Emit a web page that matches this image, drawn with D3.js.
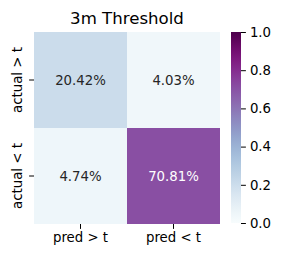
<!DOCTYPE html>
<html>
<head>
<meta charset="utf-8">
<script src="https://d3js.org/d3.v7.min.js"></script>
<style>
  html, body { margin: 0; padding: 0; background: #fff; }
  text { font-family: "DejaVu Sans", sans-serif; }
</style>
</head>
<body>
<div id="chart"></div>
<script>
var rowLabels = ["actual > t", "actual < t"];
var colLabels = ["pred > t", "pred < t"];
var values = [
  [0.2042, 0.0403],
  [0.0474, 0.7081]
];
var cbTicks = [0.0, 0.2, 0.4, 0.6, 0.8, 1.0];
var title = "3m Threshold";

var width = 282, height = 258;
var fs = 13.3;
var svg = d3.select("#chart").append("svg")
    .attr("width", width).attr("height", height);

var x = d3.scaleBand().domain(colLabels).range([34, 220]);
var y = d3.scaleBand().domain(rowLabels).range([32, 224]);
var color = d3.scaleSequential(d3.interpolateBuPu).domain([0, 1]);

var cells = [];
values.forEach(function (row, i) {
  row.forEach(function (v, j) {
    cells.push({ r: rowLabels[i], c: colLabels[j], v: v });
  });
});

svg.append("g").selectAll("rect")
  .data(cells).enter().append("rect")
  .attr("x", function (d) { return x(d.c); })
  .attr("y", function (d) { return y(d.r); })
  .attr("width", x.bandwidth())
  .attr("height", y.bandwidth())
  .attr("fill", function (d) { return color(d.v); });

svg.append("g").selectAll("text")
  .data(cells).enter().append("text")
  .attr("x", function (d) { return x(d.c) + x.bandwidth() / 2; })
  .attr("y", function (d) { return y(d.r) + y.bandwidth() / 2; })
  .attr("dy", "0.35em")
  .attr("text-anchor", "middle")
  .attr("font-size", fs)
  .attr("fill", function (d) { return d.v > 0.5 ? "#ffffff" : "#262626"; })
  .text(function (d) { return (d.v * 100).toFixed(2) + "%"; });

// x axis
var xa = svg.append("g").attr("transform", "translate(0,224)")
  .call(d3.axisBottom(x).tickSize(4.9).tickPadding(4));
xa.select(".domain").remove();
xa.selectAll("text").attr("font-size", fs).attr("fill", "#000")
  .style("font-family", "DejaVu Sans");

// y axis (ticks only, labels rotated below)
var ya = svg.append("g").attr("transform", "translate(34,0)")
  .call(d3.axisLeft(y).tickSize(4.9));
ya.select(".domain").remove();
ya.selectAll(".tick text").remove();
svg.append("g").selectAll("text")
  .data(rowLabels).enter().append("text")
  .attr("transform", function (d) {
    return "translate(22," + (y(d) + y.bandwidth() / 2) + ")rotate(-90)";
  })
  .attr("text-anchor", "middle")
  .attr("font-size", fs)
  .attr("fill", "#000")
  .text(function (d) { return d; });

// title
svg.append("text")
  .attr("x", (34 + 220) / 2)
  .attr("y", 23.5)
  .attr("text-anchor", "middle")
  .attr("font-size", 16.6)
  .attr("fill", "#000")
  .text(title);

// colorbar
var cbX = 231, cbW = 10;
var cbY = d3.scaleLinear().domain([0, 1]).range([223, 32]);
var defs = svg.append("defs");
var grad = defs.append("linearGradient").attr("id", "cbgrad")
  .attr("x1", 0).attr("y1", 1).attr("x2", 0).attr("y2", 0);
d3.range(0, 1.0001, 0.05).forEach(function (t) {
  grad.append("stop").attr("offset", t).attr("stop-color", color(t));
});
svg.append("rect")
  .attr("x", cbX).attr("y", cbY(1))
  .attr("width", cbW).attr("height", cbY(0) - cbY(1))
  .attr("fill", "url(#cbgrad)");
var ca = svg.append("g").attr("transform", "translate(" + (cbX + cbW) + ",0)")
  .call(d3.axisRight(cbY).tickValues(cbTicks).tickFormat(d3.format(".1f"))
    .tickSize(4.9).tickPadding(4));
ca.select(".domain").remove();
ca.selectAll("text").attr("font-size", fs).attr("fill", "#000")
  .style("font-family", "DejaVu Sans");
</script>
</body>
</html>
